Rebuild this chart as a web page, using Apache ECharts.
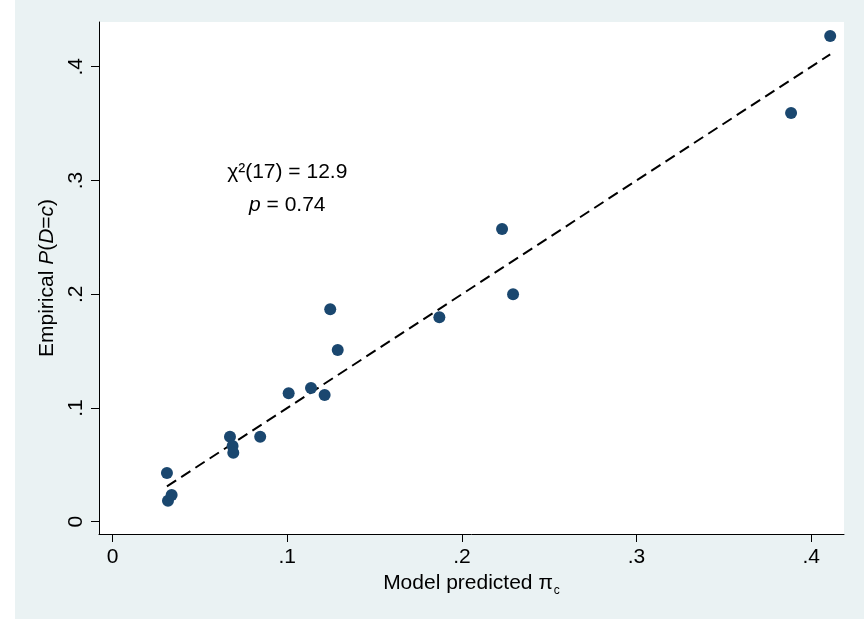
<!DOCTYPE html>
<html>
<head>
    <meta charset="utf-8">
    <script src="https://cdn.jsdelivr.net/npm/echarts@6/dist/echarts.min.js"></script>
</head>
<body style="margin:0;background:#fff;">
<div id="main" style="width: 864px;height:622px;"></div>

<script type="text/javascript">
    // model predicted pi_c vs empirical P(D=c)
    var predicted = [0.0311, 0.0317, 0.0338, 0.0672, 0.0687, 0.0691, 0.0845, 0.1008, 0.1136,
                     0.1214, 0.1246, 0.1289, 0.1871, 0.2230, 0.2293, 0.3885, 0.4109];
    var empirical = [0.0428, 0.0185, 0.0235, 0.0747, 0.0665, 0.0607, 0.0747, 0.1129, 0.1175,
                     0.1114, 0.1867, 0.1509, 0.1797, 0.2573, 0.1999, 0.3593, 0.4270];
    var tickValues = [0, 0.1, 0.2, 0.3, 0.4];
    var tickLabels = ['0', '.1', '.2', '.3', '.4'];
    var noteLines = ['χ²(17) = 12.9', '{i|p} = 0.74'];
    var notePos = [[0.1, 0.307], [0.1, 0.278]];

    var dom = document.getElementById("main");
    var myChart = echarts.init(dom);

    var points = predicted.map(function (x, i) { return [x, empirical[i]]; });
    var lo = Math.min.apply(null, predicted);
    var hi = Math.max.apply(null, predicted);
    var fitLine = [[lo, lo], [hi, hi]];

    function tickText(v) {
        var k = tickValues.indexOf(Math.round(v * 10) / 10);
        return k >= 0 ? tickLabels[k] : '';
    }

    var font = 'Liberation Sans, Arial, sans-serif';

    var option = {
        backgroundColor: '#EAF2F3',
        textStyle: { fontFamily: font },
        animation: false,
        grid: {
            left: 99, right: 20, top: 22, bottom: 88,
            show: true, backgroundColor: '#fff', borderWidth: 0,
            containLabel: false, outerBoundsMode: 'none'
        },
        xAxis: {
            type: 'value',
            min: -0.0078, max: 0.4188,
            splitLine: { show: false },
            axisLine: { show: true, onZero: false, lineStyle: { color: '#000', width: 1 } },
            axisTick: { show: true, length: 8, customValues: tickValues, lineStyle: { color: '#000' } },
            axisLabel: {
                customValues: tickValues, margin: 13, color: '#000', fontSize: 21, fontFamily: font,
                formatter: tickText
            },
            name: 'Model predicted π{sub|c}',
            nameLocation: 'middle',
            nameGap: 36,
            nameTextStyle: {
                color: '#000', fontSize: 21, fontFamily: font,
                rich: { sub: { fontSize: 12, color: '#000', padding: [14, 0, 0, 1], fontFamily: font } }
            }
        },
        yAxis: {
            type: 'value',
            min: -0.0108, max: 0.4393,
            splitLine: { show: false },
            axisLine: { show: true, onZero: false, lineStyle: { color: '#000', width: 1 } },
            axisTick: { show: true, length: 8, customValues: tickValues, lineStyle: { color: '#000' } },
            axisLabel: {
                customValues: tickValues, rotate: 90, margin: 12, color: '#000', fontSize: 21, fontFamily: font,
                formatter: tickText
            },
            name: 'Empirical {i|P}({i|D}={i|c})',
            nameLocation: 'middle',
            nameGap: 40,
            nameTextStyle: {
                color: '#000', fontSize: 21, fontFamily: font,
                rich: { i: { fontStyle: 'italic', fontSize: 21, color: '#000', fontFamily: font } }
            }
        },
        series: [
            {
                type: 'scatter',
                data: points,
                symbolSize: 12,
                itemStyle: { color: '#1A476F', opacity: 1 },
                z: 3
            },
            {
                type: 'line',
                data: fitLine,
                symbol: 'none',
                lineStyle: { color: '#000', width: 2, type: [11, 6] },
                z: 2
            }
        ]
    };

    if (option && typeof option === "object") {
        myChart.setOption(option, true);
    }

    // white margins outside the grey frame, and the test annotation placed in data coords
    var extras = [
        { type: 'rect', z: -1, shape: { x: 0, y: 0, width: 15, height: 622 }, style: { fill: '#fff' } },
        { type: 'rect', z: -1, shape: { x: 0, y: 619, width: 864, height: 3 }, style: { fill: '#fff' } }
    ];
    notePos.forEach(function (p, i) {
        var px = myChart.convertToPixel({ gridIndex: 0 }, p);
        extras.push({
            type: 'text', x: px[0], y: px[1], z: 10,
            style: {
                text: noteLines[i], fill: '#000', font: '21px ' + font,
                align: 'center', verticalAlign: 'middle',
                rich: { i: { fontStyle: 'italic', fontSize: 21, fill: '#000', fontFamily: font } }
            }
        });
    });
    myChart.setOption({ graphic: extras });
</script>
</body>
</html>
